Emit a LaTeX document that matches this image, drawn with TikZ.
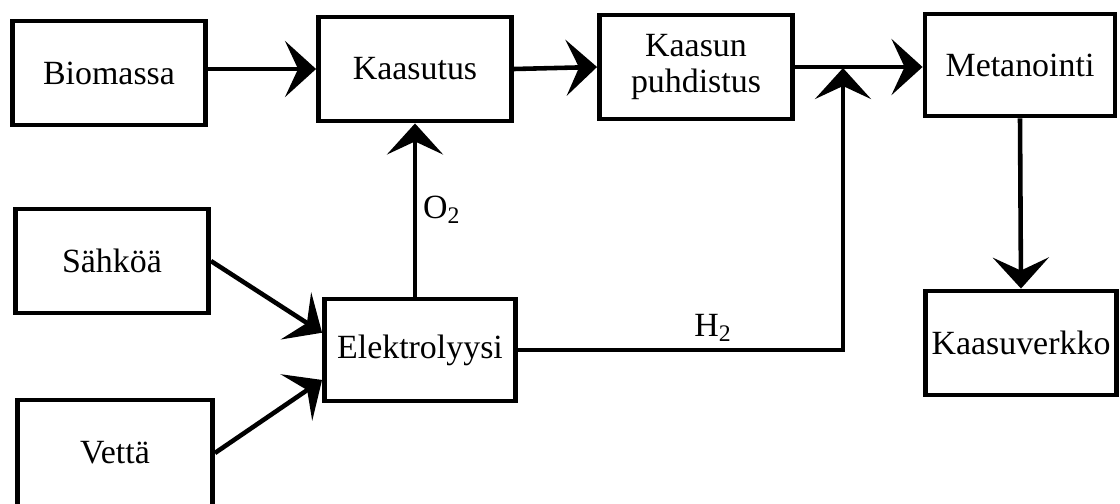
\documentclass[tikz,border=0pt]{standalone}
\usepackage{fontspec}
\setmainfont{Liberation Serif}
\usetikzlibrary{arrows.meta}

\tikzset{
  box/.style={draw, line width=2.8pt, minimum width=3.86cm, minimum height=2.08cm, align=center},
  flow/.style={line width=2.6pt, -{Stealth[length=0.62cm, width=1.12cm, inset=0.26cm]}}
}

\begin{document}
\begin{tikzpicture}[x=0.02cm, y=-0.02cm, font=\fontsize{19.3}{20}\selectfont]
\useasboundingbox (0,0) rectangle (1120,504);
% process boxes
\node[box] (bio) at (109,73) {Biomassa};
\node[box, minimum width=3.86cm] (kaas) at (415,69) {Kaasutus};
\node[box] (puh) at (696,67) {Kaasun\\puhdistus};
\node[box, minimum width=3.8cm, minimum height=2.04cm] (met) at (1020,65) {Metanointi};
\node[box, minimum width=3.78cm] (verk) at (1021,343) {Kaasuverkko};
\node[box] (sah) at (112,261) {Sähköä};
\node[box, minimum width=3.9cm, minimum height=2.12cm] (vet) at (115,453) {Vettä};
\node[box, minimum width=3.82cm, minimum height=2.04cm] (ele) at (420,350) {Elektrolyysi};
\coordinate (join) at (843,68);

% main line
\draw[flow] (bio.east |- kaas.west) -- (kaas.west);
\draw[flow] (kaas.east) -- (puh.west);
\draw[flow] (puh.east) -- (puh.east -| met.west);
\draw[flow] (met.south) -- (verk.north);

% electrolysis
\draw[flow] (sah.east) -- (ele.170);
\draw[flow] (vet.east) -- (ele.197);
\draw[flow] (kaas.south |- ele.north) -- node[right]{O\textsubscript{2}} (kaas.south);
\draw[flow] (ele.east) -| node[above, pos=0.3]{H\textsubscript{2}} (join);
\end{tikzpicture}
\end{document}
